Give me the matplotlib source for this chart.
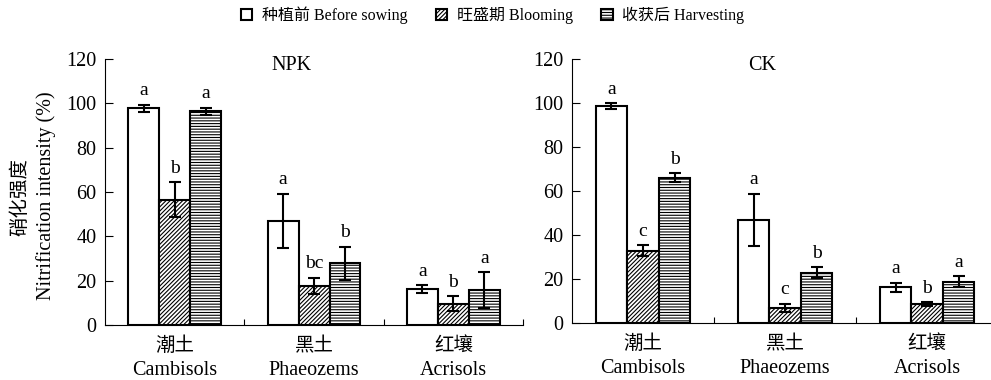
import numpy as np
import matplotlib.pyplot as plt

plt.rcParams['font.family'] = ['Liberation Serif', 'Noto Sans CJK SC']
plt.rcParams['hatch.linewidth'] = 0.8

soils_cn = ['潮土', '黑土', '红壤']
soils_en = ['Cambisols', 'Phaeozems', 'Acrisols']
stages = ['种植前 Before sowing', '旺盛期 Blooming', '收获后 Harvesting']

# rows = stage, columns = soil
npk_mean = [[97.8, 46.9, 16.1], [56.5, 17.6, 9.6], [96.4, 27.8, 15.7]]
npk_err = [[1.5, 12.3, 1.8], [7.8, 3.8, 3.3], [1.6, 7.5, 8.1]]
npk_letters = [['a', 'a', 'a'], ['b', 'bc', 'b'], ['a', 'b', 'a']]

ck_mean = [[98.6, 46.8, 16.2], [32.9, 6.9, 8.7], [66.1, 22.9, 18.8]]
ck_err = [[1.3, 12.0, 2.0], [2.5, 1.8, 0.8], [2.0, 2.5, 2.5]]
ck_letters = [['a', 'a', 'a'], ['c', 'c', 'b'], ['b', 'b', 'a']]

hatches = ['', '////////', '------']


def draw(ax, means, errs, letters, title):
    x = np.arange(3) + 0.5
    w = 0.222
    for i in range(3):
        xi = x + (i - 1) * w
        ax.bar(xi, means[i], w, color='white', edgecolor='black', linewidth=1.5,
               hatch=hatches[i], label=stages[i], zorder=2)
        ax.errorbar(xi, means[i], yerr=errs[i], fmt='none', ecolor='black',
                    elinewidth=1.5, capsize=4.5, capthick=1.5, zorder=3)
        for xx, m, e, t in zip(xi, means[i], errs[i], letters[i]):
            ax.annotate(t, (xx, m + e), xytext=(0, 4), textcoords='offset points',
                        ha='center', va='bottom', fontsize=14)
    ax.text(1.34, 117, title, ha='center', va='center', fontsize=14.5)
    ax.set_xlim(0, 3)
    ax.set_ylim(0, 120)
    ax.set_yticks(np.arange(0, 121, 20))
    ax.set_xticks(x)
    ax.set_xticklabels(soils_en, fontsize=14.5)
    # chinese soil names sit on the line above the english ones
    for xx, s in zip(x, soils_cn):
        ax.annotate(s, (xx, 0), xycoords=('data', 'axes fraction'), xytext=(0, -15),
                    textcoords='offset points', ha='center', va='center', fontsize=14)
    ax.set_xticks([1, 2, 3], minor=True)
    ax.tick_params(axis='x', which='major', length=0, pad=26)
    ax.tick_params(axis='x', which='minor', direction='in', length=4, width=0.8)
    ax.tick_params(axis='y', direction='in', length=6, width=0.8, pad=6, labelsize=14.5)
    ax.spines['top'].set_visible(False)
    ax.spines['right'].set_visible(False)
    ax.spines['left'].set_linewidth(0.8)
    ax.spines['bottom'].set_linewidth(0.8)


fig = plt.figure(figsize=(9.91, 3.8), dpi=100)
ax1 = fig.add_axes([0.106, 0.1447, 0.4218, 0.70])
ax2 = fig.add_axes([0.5772, 0.15, 0.43, 0.695])

draw(ax1, npk_mean, npk_err, npk_letters, 'NPK')
draw(ax2, ck_mean, ck_err, ck_letters, 'CK')

fig.text(0.020, 0.482, '硝化强度', rotation=90, ha='center', va='center', fontsize=14)
fig.text(0.046, 0.484, 'Nitrification intensity (%)', rotation=90, ha='center',
         va='center', fontsize=14.5)

handles, labels = ax1.get_legend_handles_labels()
fig.legend(handles, labels, loc='center', bbox_to_anchor=(0.497, 0.96), ncol=3,
           frameon=False, fontsize=11.5, handlelength=0.7, handleheight=0.7,
           handletextpad=0.6, columnspacing=1.8)

fig.savefig('out.png', dpi=100)
